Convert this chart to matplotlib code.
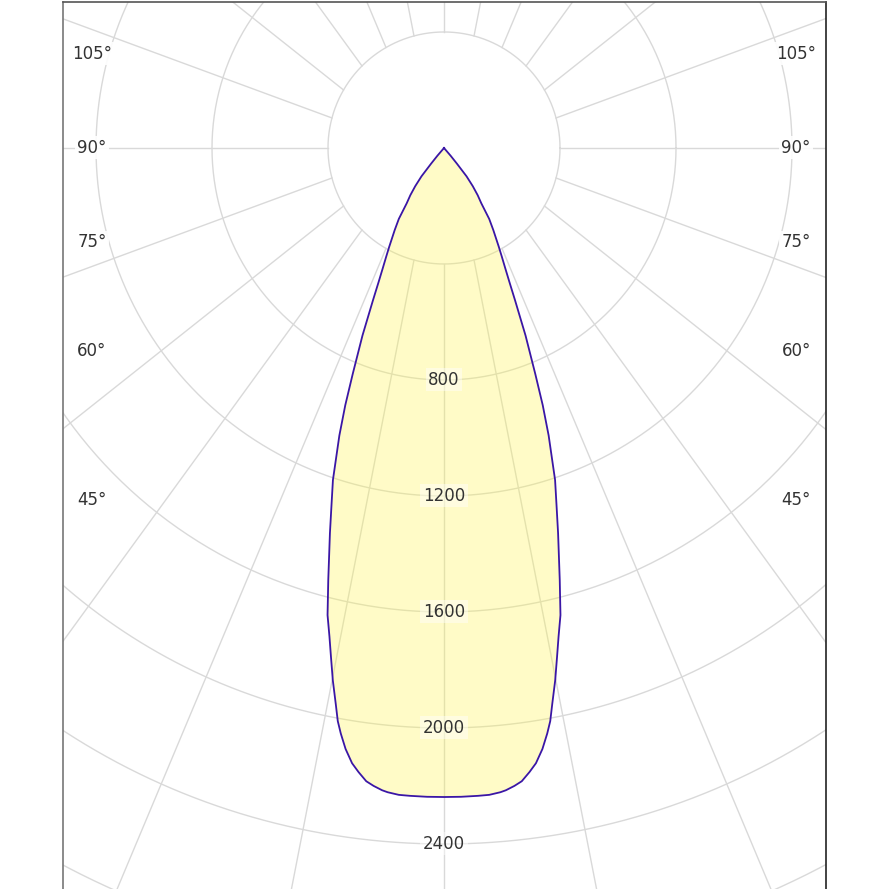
import numpy as np
import matplotlib.pyplot as plt

# luminous intensity (cd) vs. angle from nadir (deg), symmetric beam
gamma_deg = [0, 1.5, 3, 4, 5, 5.5, 6.3, 7, 7.8, 8.5, 9.3, 10, 10.5, 11, 11.8,
             12.5, 13.2, 14, 15, 16.5, 17.5, 18.5, 20, 21, 22, 23.5, 25, 26,
             27, 28, 29, 31, 32.5, 34, 35.5, 37, 38.5, 39.5, 40.5, 41.5]
intensity = [2238, 2238, 2237, 2236, 2230, 2225, 2213, 2200, 2172, 2145, 2100,
             2050, 2010, 1955, 1875, 1800, 1730, 1660, 1542, 1385, 1290, 1207,
             1055, 950, 840, 705, 580, 515, 465, 425, 390, 330, 290, 230, 200,
             165, 125, 70, 35, 0]

ring_values = [400, 800, 1200, 1600, 2000, 2400, 2800, 3200]
ring_labels = [800, 1200, 1600, 2000, 2400]
angle_labels = [45, 60, 75, 90, 105]
grid_step = 15

HOLE = 400        # no grid inside this radius
SQUEEZE = 0.727   # angular gridlines fan out a bit narrower than true radials
LABEL_X = 1214    # horizontal offset of the angle labels
GRID = '#d9d9d9'

fig = plt.figure(figsize=(8.89, 8.89), dpi=100)
ax = fig.add_axes([63 / 889, 0, 763 / 889, 887 / 889])
ax.set_xlim(-1313.8, 1317.2)
ax.set_ylim(-2555.2, 503.4)

# circles
t = np.linspace(0, 2 * np.pi, 721)
for r in ring_values:
    ax.plot(r * np.cos(t), r * np.sin(t), color=GRID, lw=1.0, zorder=1)

# angular lines, starting at the hole edge
for a in np.arange(0, 360, grid_step):
    th = np.radians(a)
    x0, y0 = HOLE * np.sin(th), -HOLE * np.cos(th)
    d = np.array([SQUEEZE * np.sin(th), -np.cos(th)])
    d /= np.hypot(*d)
    ax.plot([x0, x0 + 6000 * d[0]], [y0, y0 + 6000 * d[1]],
            color=GRID, lw=1.0, zorder=1)

# intensity curve
g = np.radians(gamma_deg)
I = np.array(intensity, dtype=float)
xs, ys = I * np.sin(g), -I * np.cos(g)
x_full = np.concatenate([-xs[::-1], xs[1:]])
y_full = np.concatenate([ys[::-1], ys[1:]])
ax.fill(x_full, y_full, facecolor=(1, 0.96, 0.28, 0.3), edgecolor='none', zorder=2)
ax.plot(x_full, y_full, color='#3a16a6', lw=1.3, zorder=3, solid_joinstyle='round')

# labels
for v in ring_labels:
    ax.text(0, -v, str(v), ha='center', va='center', fontsize=12, color='#333333',
            zorder=4, bbox=dict(boxstyle='square,pad=0.15', fc='white', ec='none', alpha=0.45))

for a in angle_labels:
    th = np.radians(a)
    y = -LABEL_X * np.cos(th) / np.sin(th)
    for side in (-1, 1):
        ax.text(side * LABEL_X, y, f'{a}°', ha='center', va='center', fontsize=12,
                color='#333333', zorder=4,
                bbox=dict(boxstyle='square,pad=0.15', fc='white', ec='none', alpha=0.9))

ax.set_xticks([])
ax.set_yticks([])
ax.spines['bottom'].set_visible(False)
ax.spines['left'].set_color('#777777')
ax.spines['top'].set_color('#555555')
ax.spines['right'].set_color('#222222')
for s in ('left', 'top', 'right'):
    ax.spines[s].set_linewidth(1.2)

fig.savefig('out.png', dpi=100)
